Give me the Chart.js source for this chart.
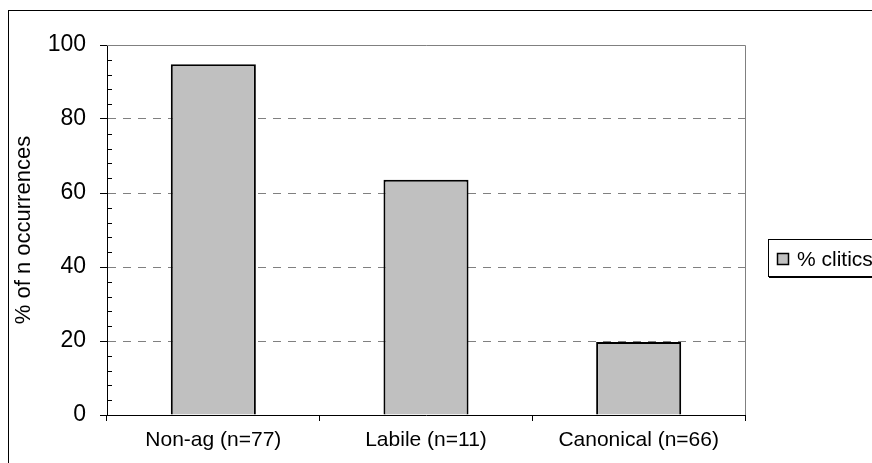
<!DOCTYPE html>
<html>
<head>
<meta charset="utf-8">
<script src="https://cdn.jsdelivr.net/npm/chart.js@4"></script>
<style>
  html, body { margin: 0; padding: 0; background: #fff; overflow: hidden; }
  #wrap { width: 872px; height: 463px; }
</style>
</head>
<body>
<div id="wrap"><canvas id="chart" width="872" height="463"></canvas></div>
<script>
// data
const categories = ["Non-ag (n=77)", "Labile (n=11)", "Canonical (n=66)"];
const clitics = [94.8, 63.6, 19.7];
const seriesName = "% clitics";
const yTicks = [0, 20, 40, 60, 80, 100];

const FONT = "'Liberation Sans', Arial, sans-serif";

// outer frame, plot border, minor ticks, legend
const decor = {
  id: "decor",
  beforeDraw(chart) {
    const c = chart.ctx;
    c.save();
    c.fillStyle = "#fff";
    c.fillRect(0, 0, chart.width, chart.height);
    c.strokeStyle = "#000";
    c.lineWidth = 1;
    c.strokeRect(8.5, 10.5, 1000, 1000);
    c.restore();
  },
  afterDatasetsDraw(chart) {
    const c = chart.ctx;
    const a = chart.chartArea;
    const y = chart.scales.y;
    c.save();
    // gray plot area border (top + right)
    c.strokeStyle = "#808080";
    c.lineWidth = 1;
    c.beginPath();
    c.moveTo(a.left, Math.round(a.top) + 0.5);
    c.lineTo(Math.round(a.right) + 0.5, Math.round(a.top) + 0.5);
    c.lineTo(Math.round(a.right) + 0.5, a.bottom);
    c.stroke();
    // minor ticks inside
    c.strokeStyle = "#000";
    c.beginPath();
    for (let v = 0; v <= 100; v += 4) {
      if (v % 20 === 0) continue;
      const py = Math.round(y.getPixelForValue(v)) + 0.5;
      c.moveTo(a.left, py);
      c.lineTo(a.left + 5, py);
    }
    c.stroke();
    // legend
    const ds = chart.data.datasets[0];
    c.fillStyle = "#000";
    c.fillRect(769, 240, 200, 38);
    c.fillStyle = "#fff";
    c.fillRect(768, 239, 200, 38);
    c.strokeStyle = "#000";
    c.strokeRect(768.5, 239.5, 200, 37);
    c.fillStyle = ds.backgroundColor;
    c.fillRect(777, 253, 11, 11);
    c.lineWidth = 1.5;
    c.strokeRect(777.5, 253.5, 11, 11);
    c.fillStyle = "#000";
    c.font = "21px " + FONT;
    c.textBaseline = "middle";
    c.fillText(ds.label, 797, 260);
    c.restore();
  }
};

new Chart(document.getElementById("chart"), {
  type: "bar",
  data: {
    labels: categories,
    datasets: [{
      label: seriesName,
      data: clitics,
      backgroundColor: "#C0C0C0",
      borderColor: "#000",
      borderWidth: 2,
      borderSkipped: "start",
      barPercentage: 0.4,
      categoryPercentage: 1.0
    }]
  },
  options: {
    responsive: false,
    animation: false,
    layout: { padding: { left: 0, top: 45, right: 127, bottom: 0 } },
    plugins: {
      legend: { display: false },
      tooltip: { enabled: false }
    },
    scales: {
      x: {
        offset: true,
        grid: {
          offset: true,
          drawOnChartArea: false,
          drawTicks: true,
          tickLength: 6,
          tickColor: "#000"
        },
        border: { color: "#000", width: 1 },
        ticks: {
          color: "#000",
          padding: 7,
          maxRotation: 0,
          font: { family: FONT, size: 21 }
        },
        afterFit(scale) { scale.height = 48; }
      },
      y: {
        min: 0,
        max: 100,
        afterBuildTicks(scale) { scale.ticks = yTicks.map(v => ({ value: v })); },
        grid: {
          color: ctx => (ctx.tick && ctx.tick.value > 0 && ctx.tick.value < 100) ? "#808080" : "rgba(0,0,0,0)",
          tickColor: "#000",
          tickLength: 7,
          drawTicks: true
        },
        border: { color: "#000", width: 1, dash: [8, 7] },
        ticks: {
          color: "#000",
          padding: 14,
          font: { family: FONT, size: 23 }
        },
        title: {
          display: true,
          text: "% of n occurrences",
          color: "#000",
          padding: { top: 11, bottom: 0 },
          font: { family: FONT, size: 22 }
        },
        afterFit(scale) { scale.width = 107; }
      }
    }
  },
  plugins: [decor]
});
</script>
</body>
</html>
